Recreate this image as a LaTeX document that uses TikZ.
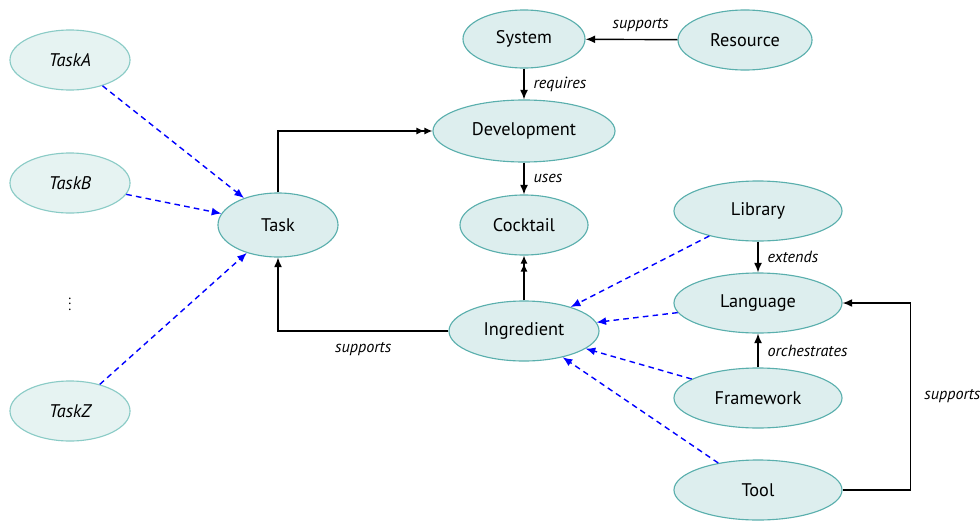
\documentclass[tikz,border=0pt]{standalone}
\usepackage{fontspec}
\setmainfont{PT Sans}
\usetikzlibrary{arrows.meta, positioning, shapes.geometric}
\usepackage{xcolor}
\definecolor{conceptcol}{HTML}{DDEEEE}
\definecolor{conceptborder}{HTML}{5AAFAD}
\definecolor{taskcol}{HTML}{E6F3F2}
\definecolor{taskborder}{HTML}{8ACBC6}

\begin{document}
\begin{tikzpicture}[
    x=0.025cm, y=-0.025cm,
    concept/.style={ellipse, draw=conceptborder, fill=conceptcol, line width=0.8pt,
        minimum height=1.5cm, inner sep=1pt, font=\fontsize{13}{15}\selectfont},
    taskitem/.style={concept, draw=taskborder, fill=taskcol, minimum width=3cm,
        font=\fontsize{13}{15}\selectfont\itshape},
    rel/.style={-{Latex[length=2.4mm, width=2mm]}, line width=1pt},
    dblrel/.style={-{Latex[length=2mm, width=1.8mm] Latex[length=2mm, width=1.8mm]}, line width=1pt},
    dep/.style={-{Latex[length=2.4mm, width=2mm]}, dash pattern=on 4pt off 3pt, line width=1pt, color=blue},
    lbl/.style={font=\fontsize{11.5}{13}\selectfont\itshape},
]
\useasboundingbox (0,0) rectangle (980,520);

% ============================================================
%  Tasks
% ============================================================
\node[taskitem] (taskA) at (70, 60) {TaskA};
\node[taskitem] (taskB) at (70, 183) {TaskB};
\node (dots) at (70, 300) {$\vdots$};
\node[taskitem] (taskZ) at (70, 411) {TaskZ};

\node[concept, minimum width=3cm, minimum height=1.6cm] (task) at (278, 225) {Task};

% ============================================================
%  Core chain
% ============================================================
\node[concept, minimum width=3.05cm, minimum height=1.45cm] (system) at (524, 39) {System};
\node[concept, minimum width=3.35cm] (resource) at (745, 40) {Resource};
\node[concept, minimum width=4.55cm, minimum height=1.55cm] (dev) at (524, 131) {Development};
\node[concept, minimum width=3.2cm] (cocktail) at (524, 225) {Cocktail};
\node[concept, minimum width=3.75cm] (ingr) at (524, 331) {Ingredient};

% ============================================================
%  Supporting items
% ============================================================
\node[concept, minimum width=4.2cm] (library) at (758, 211) {Library};
\node[concept, minimum width=4.2cm] (language) at (758, 303) {Language};
\node[concept, minimum width=4.2cm] (framework) at (758, 398) {Framework};
\node[concept, minimum width=4.2cm] (tool) at (758, 490) {Tool};

% --- solid relations ---
\draw[rel] (resource) -- node[lbl, above=2pt, pos=0.4] {supports} (system);
\draw[rel] (system) -- node[lbl, right=3pt] {requires} (dev);
\draw[rel] (dev) -- node[lbl, right=3pt] {uses} (cocktail);
\draw[dblrel] (ingr) -- (cocktail);
\draw[dblrel] (task.north) |- (dev.west);
\draw[rel] (ingr.west) -| node[lbl, below=4pt, pos=0.25] {supports} (task.south);
\draw[rel] (library) -- node[lbl, right=3pt] {extends} (language);
\draw[rel] (framework) -- node[lbl, right=3pt] {orchestrates} (language);
\draw[rel] (tool.east) -- ++(68, 0) |- node[lbl, right=6pt, pos=0.25] {supports} (language.east);

% --- dashed dependencies ---
\foreach \t in {taskA, taskB, taskZ} { \draw[dep] (\t) -- (task); }
\foreach \s in {library, language, framework, tool} { \draw[dep] (\s) -- (ingr); }

\end{tikzpicture}
\end{document}
